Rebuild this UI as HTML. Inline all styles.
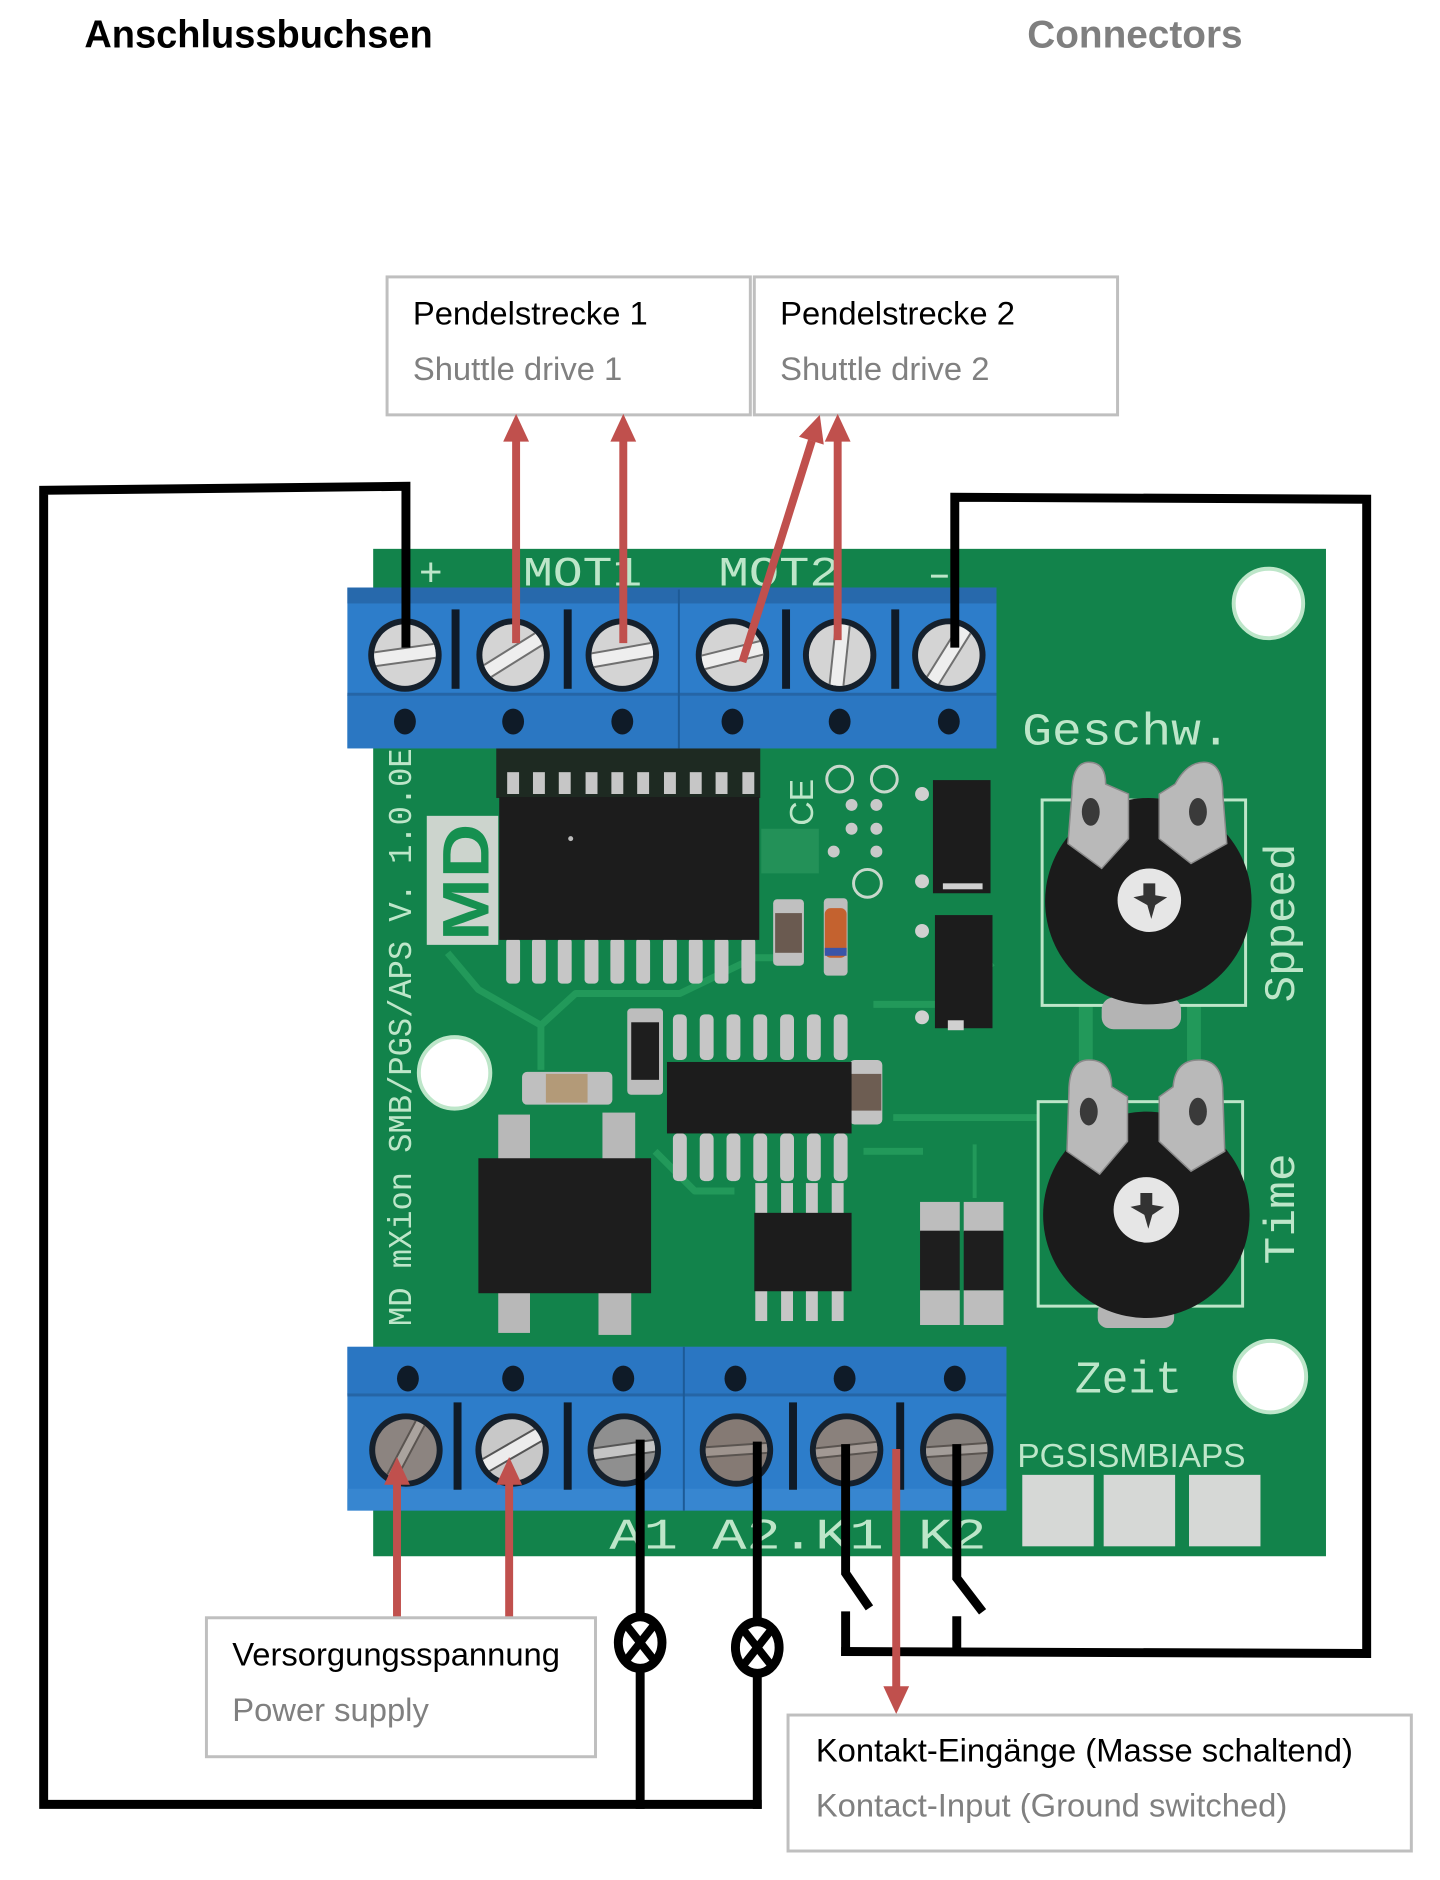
<!DOCTYPE html>
<html><head><meta charset="utf-8">
<style>html,body{margin:0;padding:0;background:#fff}svg{display:block}</style>
</head><body>
<svg width="1440" height="1880" viewBox="0 0 1440 1880" xmlns="http://www.w3.org/2000/svg">
<defs>
<clipPath id="sc"><circle cx="0" cy="0" r="31"/></clipPath>
</defs>
<rect width="1440" height="1880" fill="#fff"/>
<g transform="scale(0.9925)">

<!-- headings -->
<text x="85" y="48" font-family="Liberation Sans, sans-serif" font-weight="bold" font-size="39" textLength="351" lengthAdjust="spacingAndGlyphs" fill="#000">Anschlussbuchsen</text>
<text x="1035" y="48" font-family="Liberation Sans, sans-serif" font-weight="bold" font-size="39" textLength="217" lengthAdjust="spacingAndGlyphs" fill="#7f7f7f">Connectors</text>

<!-- top boxes -->
<g font-family="Liberation Sans, sans-serif" font-size="33">
<rect x="390" y="279" width="366" height="139" fill="#fff" stroke="#bfbfbf" stroke-width="3"/>
<rect x="760" y="279" width="366" height="139" fill="#fff" stroke="#bfbfbf" stroke-width="3"/>
<text x="416" y="327" fill="#000">Pendelstrecke 1</text>
<text x="416" y="383" fill="#808080">Shuttle drive 1</text>
<text x="786" y="327" fill="#000">Pendelstrecke 2</text>
<text x="786" y="383" fill="#808080">Shuttle drive 2</text>
</g>

<!-- ===== PCB ===== -->
<rect x="376" y="553" width="960" height="1015" fill="#12834b"/>
<!-- traces -->
<g stroke="#22995a" fill="none" stroke-width="7" stroke-linejoin="round">
<polyline points="451,960 482,997 545,1033 580,1001 685,1001 760,965 800,965"/>
<line x1="545" y1="1033" x2="545" y2="1078"/>
<polyline points="660,1160 700,1200 740,1200"/>
<line x1="1094" y1="1013" x2="1094" y2="1110" stroke-width="14"/>
<line x1="1203" y1="1013" x2="1203" y2="1110" stroke-width="14"/>
<line x1="900" y1="1126" x2="1046" y2="1126"/>
<line x1="982" y1="1153" x2="982" y2="1207" stroke-width="4"/>
<polyline points="880,1012 950,1012 1000,970"/>
<polyline points="870,1160 930,1160"/>
</g>

<!-- silkscreen labels -->
<g fill="#bde6c9" font-family="Liberation Mono, monospace">
<text x="422" y="590" font-size="40">+</text>
<text x="527" y="590" font-size="42" textLength="120" lengthAdjust="spacingAndGlyphs">MOT1</text>
<text x="724" y="590" font-size="42" textLength="122" lengthAdjust="spacingAndGlyphs">MOT2</text>
<rect x="938" y="579" width="17" height="3"/>
<text x="1030" y="750" font-size="46" textLength="210" lengthAdjust="spacingAndGlyphs">Geschw.</text>
<text transform="translate(1304,1010) rotate(-90)" font-size="44" textLength="160" lengthAdjust="spacingAndGlyphs">Sppeed</text>
<text transform="translate(1304,1274) rotate(-90)" font-size="44" textLength="112" lengthAdjust="spacingAndGlyphs">Time</text>
<text x="1083" y="1403" font-size="46" textLength="108" lengthAdjust="spacingAndGlyphs">Zeit</text>
<text x="614" y="1560" font-size="44" textLength="380" lengthAdjust="spacingAndGlyphs">A1 A2.K1 K2</text>
<text transform="translate(414,1336) rotate(-90)" font-size="34" textLength="582" lengthAdjust="spacingAndGlyphs">MD mXion SMB/PGS/APS V. 1.0.0E</text>
<text transform="translate(819,832) rotate(-90)" font-size="34" font-family="Liberation Sans, sans-serif">CE</text>
</g>
<text x="1025" y="1478" font-family="Liberation Sans, sans-serif" font-size="34" fill="#bde6c9" textLength="230" lengthAdjust="spacingAndGlyphs">PGSISMBIAPS</text>
<!-- pads -->
<rect x="1030" y="1486" width="72" height="72" fill="#d6d8d6"/>
<rect x="1112" y="1486" width="72" height="72" fill="#d6d8d6"/>
<rect x="1198" y="1486" width="72" height="72" fill="#d6d8d6"/>

<!-- mounting holes -->
<g fill="#fff" stroke="#bde6c9" stroke-width="4">
<circle cx="1278" cy="608" r="35"/>
<circle cx="458" cy="1081" r="36"/>
<circle cx="1280" cy="1387" r="36"/>
</g>

<!-- MD logo -->
<rect x="430" y="822" width="72" height="130" fill="#ccd4cd"/>
<text transform="translate(492,948) rotate(-90)" font-family="Liberation Sans, sans-serif" font-weight="bold" font-size="66" fill="#169050" textLength="118" lengthAdjust="spacingAndGlyphs">MD</text>

<!-- big chip U1 -->
<rect x="500" y="752" width="266" height="52" fill="#1e2a22"/>
<g fill="#c6c6c6">
<rect x="511" y="778" width="12" height="22"/><rect x="537" y="778" width="12" height="22"/><rect x="563" y="778" width="12" height="22"/><rect x="590" y="778" width="12" height="22"/><rect x="616" y="778" width="12" height="22"/><rect x="642" y="778" width="12" height="22"/><rect x="669" y="778" width="12" height="22"/><rect x="695" y="778" width="12" height="22"/><rect x="721" y="778" width="12" height="22"/><rect x="748" y="778" width="12" height="22"/>
<rect x="510" y="945" width="14" height="46" rx="4"/><rect x="536" y="945" width="14" height="46" rx="4"/><rect x="562" y="945" width="14" height="46" rx="4"/><rect x="589" y="945" width="14" height="46" rx="4"/><rect x="615" y="945" width="14" height="46" rx="4"/><rect x="641" y="945" width="14" height="46" rx="4"/><rect x="668" y="945" width="14" height="46" rx="4"/><rect x="694" y="945" width="14" height="46" rx="4"/><rect x="720" y="945" width="14" height="46" rx="4"/><rect x="747" y="945" width="14" height="46" rx="4"/>
</g>
<rect x="503" y="803" width="262" height="144" fill="#1c1c1c"/>
<circle cx="575" cy="845" r="2.5" fill="#bbb"/>

<!-- green cap / CE area / vias -->
<rect x="767" y="835" width="58" height="45" fill="#239158"/>
<g fill="none" stroke="#c8d8cc" stroke-width="3">
<circle cx="846" cy="785" r="13"/><circle cx="891" cy="785" r="13"/><circle cx="874" cy="890" r="14"/>
</g>
<g fill="#c9c9c9">
<circle cx="858" cy="811" r="6"/><circle cx="883" cy="811" r="6"/><circle cx="858" cy="835" r="6"/><circle cx="883" cy="835" r="6"/><circle cx="840" cy="858" r="6"/><circle cx="883" cy="858" r="6"/>
</g>

<!-- small cap & diode -->
<rect x="779" y="906" width="31" height="67" rx="4" fill="#c0c0c0"/>
<rect x="781" y="920" width="27" height="40" fill="#6a5a50"/>
<rect x="830" y="905" width="24" height="78" rx="4" fill="#bdbdbd"/>
<rect x="831" y="915" width="22" height="50" rx="6" fill="#c4622f"/>
<rect x="831" y="955" width="22" height="8" fill="#3a55a8"/>

<!-- right SMD bodies -->
<rect x="940" y="786" width="58" height="114" fill="#1c1c1c"/>
<rect x="942" y="922" width="58" height="114" fill="#1c1c1c"/>
<g fill="#d0d0d0">
<circle cx="929" cy="800" r="7"/><circle cx="929" cy="888" r="7"/><circle cx="929" cy="938" r="7"/><circle cx="929" cy="1025" r="7"/>
<rect x="950" y="890" width="40" height="6"/><rect x="955" y="1028" width="16" height="10"/>
</g>

<!-- resistor -->
<rect x="632" y="1016" width="36" height="87" rx="4" fill="#bdbdbd"/>
<rect x="636" y="1030" width="28" height="58" fill="#1e1e1e"/>

<!-- caps -->
<rect x="526" y="1080" width="91" height="33" rx="5" fill="#bfbfbf"/>
<rect x="550" y="1082" width="42" height="29" fill="#b39a78"/>
<rect x="856" y="1068" width="33" height="65" rx="5" fill="#c2c2c2"/>
<rect x="857" y="1082" width="31" height="37" fill="#6d5d52"/>

<!-- SOIC-14 -->
<g fill="#c6c6c6">
<rect x="678" y="1022" width="14" height="46" rx="5"/><rect x="705" y="1022" width="14" height="46" rx="5"/><rect x="732" y="1022" width="14" height="46" rx="5"/><rect x="759" y="1022" width="14" height="46" rx="5"/><rect x="786" y="1022" width="14" height="46" rx="5"/><rect x="813" y="1022" width="14" height="46" rx="5"/><rect x="840" y="1022" width="14" height="46" rx="5"/>
<rect x="678" y="1142" width="14" height="48" rx="5"/><rect x="705" y="1142" width="14" height="48" rx="5"/><rect x="732" y="1142" width="14" height="48" rx="5"/><rect x="759" y="1142" width="14" height="48" rx="5"/><rect x="786" y="1142" width="14" height="48" rx="5"/><rect x="813" y="1142" width="14" height="48" rx="5"/><rect x="840" y="1142" width="14" height="48" rx="5"/>
</g>
<rect x="672" y="1070" width="186" height="72" fill="#1c1c1c"/>

<!-- SOIC-8 -->
<g fill="#c6c6c6">
<rect x="761" y="1192" width="12" height="32"/><rect x="787" y="1192" width="12" height="32"/><rect x="812" y="1192" width="12" height="32"/><rect x="838" y="1192" width="12" height="32"/>
<rect x="761" y="1299" width="12" height="32"/><rect x="787" y="1299" width="12" height="32"/><rect x="812" y="1299" width="12" height="32"/><rect x="838" y="1299" width="12" height="32"/>
</g>
<rect x="760" y="1222" width="98" height="79" fill="#1c1c1c"/>

<!-- bridge rectifier -->
<g fill="#b8b8b8">
<rect x="502" y="1123" width="32" height="46"/><rect x="607" y="1121" width="33" height="48"/>
<rect x="502" y="1301" width="32" height="42"/><rect x="603" y="1301" width="33" height="44"/>
</g>
<rect x="482" y="1167" width="174" height="136" fill="#1d1d1d"/>

<!-- small diodes bottom right -->
<g fill="#bdbdbd">
<rect x="927" y="1211" width="40" height="30"/><rect x="971" y="1211" width="40" height="30"/>
<rect x="927" y="1300" width="40" height="35"/><rect x="971" y="1300" width="40" height="35"/>
</g>
<rect x="927" y="1240" width="40" height="60" fill="#1e1e1e"/>
<rect x="971" y="1240" width="40" height="60" fill="#1e1e1e"/>

<!-- potentiometers -->
<g fill="none" stroke="#bde6c9" stroke-width="3">
<rect x="1050" y="806" width="205" height="207"/>
<rect x="1046" y="1110" width="206" height="206"/>
</g>
<!-- pot 1 -->
<rect x="1110" y="1005" width="80" height="32" rx="12" fill="#b4b4b4"/>
<circle cx="1157" cy="908" r="104" fill="#1b1b1b"/>
<g fill="#b9b9b9" stroke="#8a8a8a" stroke-width="1.5">
<path d="M1080,800 Q1080,768 1097,768 Q1114,768 1114,790 L1137,800 L1137,845 L1110,875 L1076,850 Z"/>
<path d="M1232,800 Q1232,768 1213,768 Q1196,768 1184,790 L1168,800 L1168,845 L1200,870 L1236,850 Z"/>
</g>
<ellipse cx="1099" cy="818" rx="9" ry="14" fill="#3a3a3a"/>
<ellipse cx="1207" cy="818" rx="9" ry="14" fill="#3a3a3a"/>
<circle cx="1158" cy="907" r="32" fill="#e6e6e6"/>
<path d="M1152,890 L1164,890 L1164,902 L1176,904 L1164,912 L1160,926 L1156,912 L1142,904 L1152,902 Z" fill="#333"/>
<!-- pot 2 -->
<rect x="1106" y="1312" width="77" height="26" rx="10" fill="#b4b4b4"/>
<circle cx="1155" cy="1224" r="104" fill="#1b1b1b"/>
<g fill="#b9b9b9" stroke="#8a8a8a" stroke-width="1.5">
<path d="M1077,1100 Q1077,1068 1097,1068 Q1120,1068 1120,1095 L1136,1105 L1136,1150 L1108,1183 L1075,1160 Z"/>
<path d="M1232,1100 Q1232,1068 1208,1068 Q1184,1068 1182,1095 L1168,1105 L1168,1150 L1200,1180 L1234,1160 Z"/>
</g>
<ellipse cx="1097" cy="1120" rx="9" ry="14" fill="#3a3a3a"/>
<ellipse cx="1207" cy="1120" rx="9" ry="14" fill="#3a3a3a"/>
<circle cx="1155" cy="1219" r="33" fill="#e6e6e6"/>
<path d="M1149,1202 L1161,1202 L1161,1214 L1173,1216 L1161,1224 L1157,1238 L1153,1224 L1139,1216 L1149,1214 Z" fill="#333"/>

<!-- top terminal block -->
<rect x="350" y="592" width="654" height="162" fill="#2d7dca"/>
<rect x="350" y="592" width="654" height="16" fill="#2769ac"/>
<rect x="350" y="700" width="654" height="54" fill="#2b77c2"/>
<rect x="350" y="698" width="654" height="3" fill="#2565a6"/>
<line x1="684" y1="594" x2="684" y2="754" stroke="#1d5a96" stroke-width="2"/>
<g fill="#0f1b28">
<rect x="455" y="614" width="8" height="80"/><rect x="568" y="614" width="8" height="80"/><rect x="788" y="614" width="8" height="80"/><rect x="898" y="614" width="8" height="80"/>
<ellipse cx="408" cy="727" rx="11" ry="13"/><ellipse cx="517" cy="727" rx="11" ry="13"/><ellipse cx="627" cy="727" rx="11" ry="13"/><ellipse cx="738" cy="727" rx="11" ry="13"/><ellipse cx="846" cy="727" rx="11" ry="13"/><ellipse cx="956" cy="727" rx="11" ry="13"/>
</g>
<g>
<g transform="translate(408,660)"><circle r="37" fill="#15202c"/><circle r="31" fill="#d4d4d4"/><g clip-path="url(#sc)" transform="rotate(-8)"><rect x="-34" y="-7" width="68" height="14" fill="#eeeeee" stroke="#707070" stroke-width="2"/></g></g>
<g transform="translate(517,660)"><circle r="37" fill="#15202c"/><circle r="31" fill="#d4d4d4"/><g clip-path="url(#sc)" transform="rotate(-32)"><rect x="-34" y="-7" width="68" height="14" fill="#eeeeee" stroke="#707070" stroke-width="2"/></g></g>
<g transform="translate(627,660)"><circle r="37" fill="#15202c"/><circle r="31" fill="#d4d4d4"/><g clip-path="url(#sc)" transform="rotate(-10)"><rect x="-34" y="-7" width="68" height="14" fill="#eeeeee" stroke="#707070" stroke-width="2"/></g></g>
<g transform="translate(738,660)"><circle r="37" fill="#15202c"/><circle r="31" fill="#d4d4d4"/><g clip-path="url(#sc)" transform="rotate(-14)"><rect x="-34" y="-7" width="68" height="14" fill="#eeeeee" stroke="#707070" stroke-width="2"/></g></g>
<g transform="translate(846,660)"><circle r="37" fill="#15202c"/><circle r="31" fill="#d4d4d4"/><g clip-path="url(#sc)" transform="rotate(-84)"><rect x="-34" y="-7" width="68" height="14" fill="#eeeeee" stroke="#707070" stroke-width="2"/></g></g>
<g transform="translate(956,660)"><circle r="37" fill="#15202c"/><circle r="31" fill="#d4d4d4"/><g clip-path="url(#sc)" transform="rotate(-58)"><rect x="-34" y="-7" width="68" height="14" fill="#eeeeee" stroke="#707070" stroke-width="2"/></g></g>
</g>

<!-- bottom terminal block -->
<rect x="350" y="1357" width="664" height="165" fill="#2d7dca"/>
<rect x="350" y="1357" width="664" height="48" fill="#2a76c2"/>
<rect x="350" y="1404" width="664" height="3" fill="#2565a6"/>
<rect x="350" y="1500" width="664" height="22" fill="#3786d0"/>
<line x1="689" y1="1357" x2="689" y2="1522" stroke="#1d5a96" stroke-width="2"/>
<g fill="#0f1b28">
<rect x="457" y="1413" width="8" height="88"/><rect x="568" y="1413" width="8" height="88"/><rect x="795" y="1413" width="8" height="88"/><rect x="903" y="1413" width="8" height="88"/>
<ellipse cx="411" cy="1389" rx="11" ry="13"/><ellipse cx="517" cy="1389" rx="11" ry="13"/><ellipse cx="628" cy="1389" rx="11" ry="13"/><ellipse cx="741" cy="1389" rx="11" ry="13"/><ellipse cx="851" cy="1389" rx="11" ry="13"/><ellipse cx="962" cy="1389" rx="11" ry="13"/>
</g>
<g>
<g transform="translate(409,1461)"><circle r="37" fill="#15202c"/><circle r="31" fill="#8c8480"/><g clip-path="url(#sc)" transform="rotate(-62)"><rect x="-34" y="-5" width="68" height="10" fill="#aaa39e" stroke="#5a5450" stroke-width="2"/></g></g>
<g transform="translate(516,1461)"><circle r="37" fill="#15202c"/><circle r="31" fill="#c8c8c8"/><g clip-path="url(#sc)" transform="rotate(-30)"><rect x="-34" y="-7" width="68" height="14" fill="#ececec" stroke="#555" stroke-width="2"/></g></g>
<g transform="translate(629,1461)"><circle r="37" fill="#15202c"/><circle r="31" fill="#8f8f8f"/><g clip-path="url(#sc)" transform="rotate(-8)"><rect x="-34" y="-6" width="68" height="12" fill="#c4c4c4" stroke="#555" stroke-width="2"/></g></g>
<g transform="translate(742,1461)"><circle r="37" fill="#15202c"/><circle r="31" fill="#857a74"/><g clip-path="url(#sc)" transform="rotate(-4)"><rect x="-34" y="-5" width="68" height="10" fill="#9e948e" stroke="#5a5450" stroke-width="2"/></g></g>
<g transform="translate(853,1461)"><circle r="37" fill="#15202c"/><circle r="31" fill="#8a817c"/><g clip-path="url(#sc)" transform="rotate(-6)"><rect x="-34" y="-5" width="68" height="10" fill="#a29994" stroke="#5a5450" stroke-width="2"/></g></g>
<g transform="translate(964,1461)"><circle r="37" fill="#15202c"/><circle r="31" fill="#86807c"/><g clip-path="url(#sc)" transform="rotate(-4)"><rect x="-34" y="-5" width="68" height="10" fill="#a39d99" stroke="#5a5450" stroke-width="2"/></g></g>
</g>

<!-- ===== black wiring ===== -->
<g stroke="#000" stroke-width="9" fill="none" stroke-linecap="square" stroke-linejoin="miter">
<polyline points="409,648 409,490 44,494 44,1818 763,1818"/>
<line x1="645" y1="1455" x2="645" y2="1818"/>
<line x1="763" y1="1457" x2="763" y2="1818"/>
<polyline points="962,648 962,501 1377,503 1377,1666 852,1664"/>
<polyline points="852,1455 852,1585 876,1620" stroke-linecap="butt"/>
<line x1="852" y1="1628" x2="852" y2="1664"/>
<polyline points="964,1455 964,1590 990,1624" stroke-linecap="butt"/>
<line x1="964" y1="1633" x2="964" y2="1664"/>
</g>

<!-- lamps -->
<g transform="translate(645,1655)"><ellipse rx="22" ry="26" fill="#fff" stroke="#000" stroke-width="9"/><line x1="-15" y1="-19" x2="15" y2="19" stroke="#000" stroke-width="8"/><line x1="15" y1="-19" x2="-15" y2="19" stroke="#000" stroke-width="8"/></g>
<g transform="translate(763,1660)"><ellipse rx="22" ry="26" fill="#fff" stroke="#000" stroke-width="9"/><line x1="-15" y1="-19" x2="15" y2="19" stroke="#000" stroke-width="8"/><line x1="15" y1="-19" x2="-15" y2="19" stroke="#000" stroke-width="8"/></g>

<!-- ===== red arrows ===== -->
<g stroke="#c0504d" stroke-width="8" fill="none">
<line x1="520" y1="442" x2="520" y2="648"/>
<line x1="628" y1="442" x2="628" y2="648"/>
<line x1="818" y1="444" x2="748" y2="667"/>
<line x1="844" y1="442" x2="844" y2="645"/>
<line x1="400" y1="1494" x2="400" y2="1632"/>
<line x1="513" y1="1494" x2="513" y2="1632"/>
<line x1="903" y1="1460" x2="903" y2="1702"/>
</g>
<g fill="#c0504d">
<polygon points="520,417 507,445 533,445"/>
<polygon points="628,417 615,445 641,445"/>
<polygon points="826,418 830,448 805,440"/>
<polygon points="844,417 831,445 857,445"/>
<polygon points="400,1468 387,1496 413,1496"/>
<polygon points="513,1468 500,1496 526,1496"/>
<polygon points="903,1727 890,1699 916,1699"/>
</g>

<!-- bottom boxes -->
<g font-family="Liberation Sans, sans-serif" font-size="33">
<rect x="208" y="1630" width="392" height="140" fill="#fff" stroke="#bfbfbf" stroke-width="3"/>
<text x="234" y="1678" fill="#000">Versorgungsspannung</text>
<text x="234" y="1734" fill="#808080">Power supply</text>
<rect x="794" y="1728" width="628" height="137" fill="#fff" stroke="#bfbfbf" stroke-width="3"/>
<text x="822" y="1775" fill="#000">Kontakt-Eingänge (Masse schaltend)</text>
<text x="822" y="1830" fill="#808080">Kontact-Input (Ground switched)</text>
</g>
</g>
</svg>
</body></html>
